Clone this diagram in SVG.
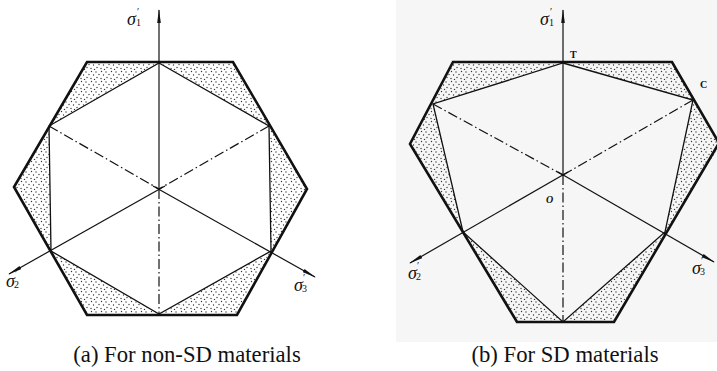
<svg xmlns="http://www.w3.org/2000/svg" width="717" height="371" viewBox="0 0 717 371">
<defs>
<pattern id="dots" patternUnits="userSpaceOnUse" width="10" height="10">
<circle cx="1.5" cy="1.5" r="0.7" fill="#333"/>
<circle cx="6" cy="2" r="0.7" fill="#333"/>
<circle cx="9" cy="4.5" r="0.7" fill="#333"/>
<circle cx="3.5" cy="5" r="0.7" fill="#333"/>
<circle cx="7" cy="7.5" r="0.7" fill="#333"/>
<circle cx="1" cy="8.5" r="0.7" fill="#333"/>
<circle cx="4.5" cy="9.5" r="0.7" fill="#333"/>
</pattern>
<marker id="arr" viewBox="0 0 14 6" refX="13" refY="3" markerWidth="14" markerHeight="6" markerUnits="userSpaceOnUse" orient="auto">
<path d="M0,1.2 L14,3 L0,4.8 Z" fill="#111"/>
</marker>
</defs>
<style>
.shade{fill:url(#dots);stroke:none}
.outer{fill:none;stroke:#111;stroke-width:2.6;stroke-linejoin:miter}
.inner{fill:none;stroke:#111;stroke-width:1.3}
.axis{fill:none;stroke:#111;stroke-width:1.2}
.dd{fill:none;stroke:#111;stroke-width:1.2;stroke-dasharray:10 3 1.5 3}
.sig{font-style:italic;font-size:18px;fill:#111}
.sm{font-size:10px;font-style:normal}
.lab{font-size:10px;font-weight:bold;fill:#111}
.cap{font-size:22.7px;fill:#111;text-anchor:middle}
</style>
<rect x="396" y="0" width="321" height="342" fill="#f6f6f6"/>

<g id="figA">
<g id="shadeA">
<polygon class="shade" points="87,62 159,62 49,126"/>
<polygon class="shade" points="159,62 233,62 269,126"/>
<polygon class="shade" points="49,126 14,187 51,251"/>
<polygon class="shade" points="269,126 307,189 271,251"/>
<polygon class="shade" points="51,251 87,315 159,315"/>
<polygon class="shade" points="159,315 237,315 271,251"/>
</g>
<polygon id="outerA" class="outer" points="87,62 233,62 307,189 237,315 87,315 14,187"/>
<polygon id="innerA" class="inner" points="159,63 269,126 271,251 159,314 51,251 49,126"/>
</g>

<g id="figB">
<g id="shadeB">
<polygon class="shade" points="453,62 563,62 433,104"/>
<polygon class="shade" points="563,62 672,62 693,100"/>
<polygon class="shade" points="433,104 410,144 463,232"/>
<polygon class="shade" points="693,100 717,140 717,150 665,232"/>
<polygon class="shade" points="463,232 517,322 563,322"/>
<polygon class="shade" points="563,322 614,322 665,232"/>
</g>
<polyline id="outerB" class="outer" points="719,143 614,322 517,322 410,144 453,62 672,62 719,143"/>
<polygon id="innerB" class="inner" points="563,63 693,100 665,232 563,322 463,232 433,104"/>
</g>

<g id="connectors">
<line class="axis" x1="159" y1="189" x2="159" y2="10" marker-end="url(#arr)"/>
<line class="dd" x1="159" y1="189" x2="159" y2="314"/>
<line class="dd" x1="49" y1="126" x2="159" y2="189"/>
<line class="dd" x1="269" y1="126" x2="159" y2="189"/>
<line class="axis" x1="165" y1="186" x2="9" y2="274" marker-end="url(#arr)"/>
<line class="axis" x1="153" y1="186" x2="315" y2="277" marker-end="url(#arr)"/>

<line class="axis" x1="563" y1="175" x2="563" y2="10" marker-end="url(#arr)"/>
<line class="dd" x1="563" y1="175" x2="563" y2="322"/>
<line class="dd" x1="433" y1="104" x2="563" y2="175"/>
<line class="dd" x1="693" y1="100" x2="563" y2="175"/>
<line class="axis" x1="568" y1="172" x2="410" y2="263" marker-end="url(#arr)"/>
<line class="axis" x1="558" y1="172" x2="714" y2="262" marker-end="url(#arr)"/>
</g>

<g id="labels" font-family="'Liberation Serif', 'Times New Roman', serif">
<text class="sig" x="127" y="25">σ<tspan class="sm" dx="1" dy="-10">′</tspan><tspan class="sm" dx="-3" dy="11">1</tspan></text>
<text class="sig" x="6" y="287">σ<tspan class="sm" dx="0" dy="-10">′</tspan><tspan class="sm" dx="-3" dy="11">2</tspan></text>
<text class="sig" x="294" y="291">σ<tspan class="sm" dx="0" dy="-10">′</tspan><tspan class="sm" dx="-3" dy="11">3</tspan></text>
<text class="sig" x="540" y="25">σ<tspan class="sm" dx="1" dy="-10">′</tspan><tspan class="sm" dx="-3" dy="11">1</tspan></text>
<text class="sig" x="408" y="279">σ<tspan class="sm" dx="0" dy="-10">′</tspan><tspan class="sm" dx="-3" dy="11">2</tspan></text>
<text class="sig" x="692" y="274">σ<tspan class="sm" dx="0" dy="-10">′</tspan><tspan class="sm" dx="-3" dy="11">3</tspan></text>
<text class="lab" x="570" y="58">T</text>
<text class="lab" x="700" y="88">C</text>
<text class="lab" x="546" y="203" font-style="italic">O</text>
<text class="cap" x="187" y="362">(a) For non-SD materials</text>
<text class="cap" x="565" y="362">(b) For SD materials</text>
</g>
</svg>
